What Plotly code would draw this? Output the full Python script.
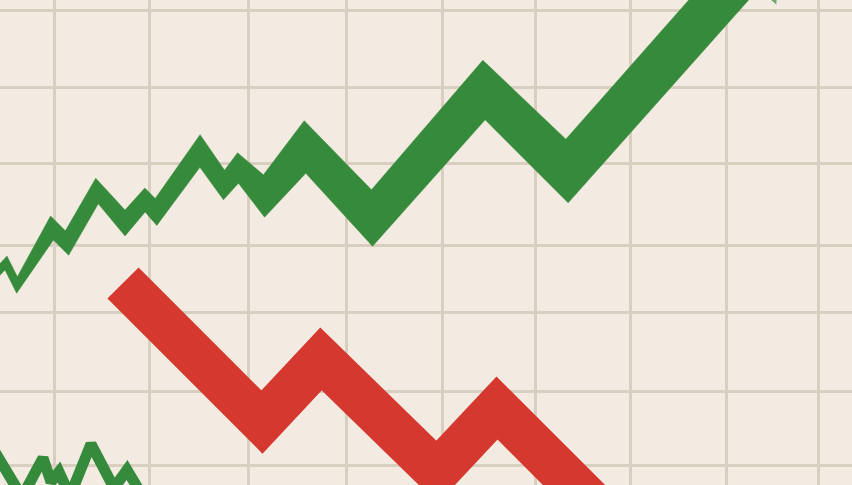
import math
import plotly.graph_objects as go

# ---- data (time on x, price on y) ----
green_x = [-8, 6, 17, 52, 67, 97, 125, 145, 156, 200, 224, 238, 264, 305, 372, 484, 567, 755]
green_y = [207, 222, 200, 257, 242, 294, 262, 285, 273, 334, 300, 317, 289, 338, 267, 395, 314, 526]

red_x = [123, 262, 321, 437, 497, 610]
red_y = [202, 63, 126, 13, 77, -36]

small_x = [-5, 22, 43, 51, 59, 70, 91, 114, 127, 145]
small_y = [33, -12, 27, 3, 13, -11, 41, -3, 15, -15]

grid_x = [54, 149, 248, 346, 442, 535, 630, 726, 818]
grid_y = [475, 398, 322, 240, 173, 94, 20]

# ---- styles ----
GREEN = "#368a3b"
RED = "#d4382e"
BG = "#f3ebe1"
GRID = "#d9cfc1"
# stroke width (px) at each vertex of the tapering green line
green_widths = [8, 8, 8, 15, 15, 15, 17, 16, 17, 19, 18, 20, 28, 35, 38, 41, 44, 45]

W, H = 852, 485  # 1 axis unit == 1 px on both axes (ranges below)


def tapered_band(xs, ys, widths):
    """Outline of a stroke whose width varies per vertex, with mitred corners."""
    n = len(xs)
    left, right = [], []
    for i in range(n):
        def unit(a, b):
            dx, dy = xs[b] - xs[a], ys[b] - ys[a]
            L = math.hypot(dx, dy)
            return dx / L, dy / L
        if i == 0:
            dx, dy = unit(0, 1)
            mx, my, scale = -dy, dx, 1.0
        elif i == n - 1:
            dx, dy = unit(n - 2, n - 1)
            mx, my, scale = -dy, dx, 1.0
        else:
            d1 = unit(i - 1, i)
            d2 = unit(i, i + 1)
            n1 = (-d1[1], d1[0])
            n2 = (-d2[1], d2[0])
            mx, my = n1[0] + n2[0], n1[1] + n2[1]
            L = math.hypot(mx, my)
            mx, my = mx / L, my / L
            scale = 1.0 / (mx * n1[0] + my * n1[1])
        h = widths[i] / 2 * scale
        left.append((xs[i] + mx * h, ys[i] + my * h))
        right.append((xs[i] - mx * h, ys[i] - my * h))
    pts = left + right[::-1] + [left[0]]
    return [p[0] for p in pts], [p[1] for p in pts]


fig = go.Figure()

bx, by = tapered_band(green_x, green_y, green_widths)
fig.add_trace(go.Scatter(
    x=bx, y=by, mode="lines", fill="toself", fillcolor=GREEN,
    line=dict(color=GREEN, width=0.5),
    hoverinfo="skip", showlegend=False))

# arrow head of green line
fig.add_trace(go.Scatter(
    x=green_x[-2:], y=green_y[-2:], mode="markers",
    marker=dict(symbol="triangle-up", size=[0, 80], color=GREEN,
                angleref="previous", line=dict(width=0)),
    hoverinfo="skip", showlegend=False))

fig.add_trace(go.Scatter(
    x=red_x, y=red_y, mode="lines",
    line=dict(color=RED, width=44),
    hoverinfo="skip", showlegend=False))

fig.add_trace(go.Scatter(
    x=small_x, y=small_y, mode="lines",
    line=dict(color=GREEN, width=11),
    hoverinfo="skip", showlegend=False))

fig.update_layout(
    width=W, height=H,
    margin=dict(l=0, r=0, t=0, b=0),
    paper_bgcolor=BG, plot_bgcolor=BG,
    xaxis=dict(range=[0, W], tickvals=grid_x, showticklabels=False,
               showgrid=True, gridcolor=GRID, gridwidth=3,
               zeroline=False, showline=False, fixedrange=True),
    yaxis=dict(range=[0, H], tickvals=grid_y, showticklabels=False,
               showgrid=True, gridcolor=GRID, gridwidth=3,
               zeroline=False, showline=False, fixedrange=True),
)

fig.write_html("out.html", config={"displayModeBar": False},
               post_script="document.body.style.margin='0';")
